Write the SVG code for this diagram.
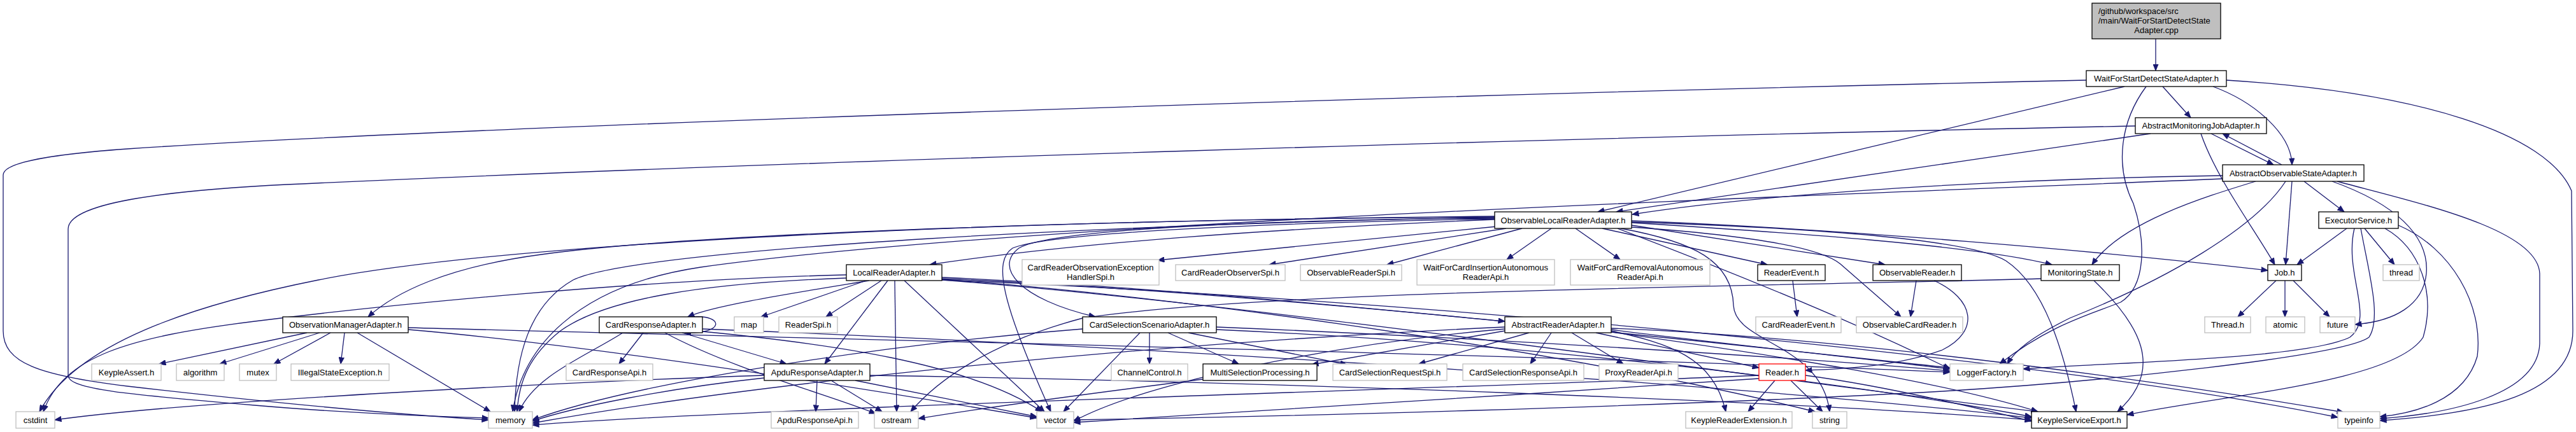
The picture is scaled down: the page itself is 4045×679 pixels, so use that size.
<svg xmlns="http://www.w3.org/2000/svg" width="4045" height="679" viewBox="0 0 4045 679">
<defs>
<marker id="arr" markerUnits="userSpaceOnUse" markerWidth="11" markerHeight="9" viewBox="0 0 11 9" refX="10.5" refY="4.5" orient="auto">
<path d="M0.5,0.5 L10.5,4.5 L0.5,8.5 z" fill="#191970" stroke="#191970" stroke-width="1"/>
</marker>
<style>
.e path{fill:none;stroke:#191970;stroke-width:1.3;marker-end:url(#arr)}
.n rect{fill:#fff;stroke:#000;stroke-width:1.3}
.g rect{fill:#fff;stroke:#bfbfbf;stroke-width:1.3}
.r rect{fill:#fff;stroke:#ff0000;stroke-width:1.3}
.top rect{fill:#bfbfbf;stroke:#000;stroke-width:1.3}
text{font-family:"Liberation Sans",Arial,Helvetica,sans-serif;font-size:13px;fill:#000;text-anchor:middle}
text.l{text-anchor:start}
</style>
</defs>
<rect width="4045" height="679" fill="#fff"/>
<g id="edges" class="e">
<path d="M3385,61 L3385,111"/>
<path d="M3396,136 L3440,185"/>
<path d="M3475,136 C3540,160 3598,210 3599,259"/>
<path d="M3336,136 L2509,333"/>
<path d="M3370,136 C3330,190 3320,260 3350,320 C3370,380 3370,450 3330,475 C3280,495 3220,510 3140,572"/>
<path d="M3276,126 C2200,150 700,200 200,234 C60,244 5,258 5,275 L5,520 C5,570 60,590 200,607 C400,630 600,650 767,660"/>
<path d="M3496,126 C3800,145 4000,210 4038,300 L4040,520 C4040,620 3900,650 3737,661"/>
<path d="M3472,210 L3570,259"/>
<path d="M3583,259 L3490,210"/>
<path d="M3377,210 L2538,333"/>
<path d="M3456,210 C3480,280 3540,360 3572,416"/>
<path d="M3353,198 C2500,215 1200,255 450,290 C250,300 107,320 107,360 L107,590 C107,612 200,620 400,637 C550,650 700,655 767,657"/>
<path d="M3490,276 C3200,280 2800,300 2563,337"/>
<path d="M3490,281 C2800,310 1600,350 1100,420 C900,450 820,550 805,647"/>
<path d="M3542,285 C3460,310 3330,350 3285,416"/>
<path d="M3589,285 C3540,360 3400,440 3250,500 C3190,530 3165,550 3152,572"/>
<path d="M3599,285 L3589,416"/>
<path d="M3618,285 L3681,333"/>
<path d="M3662,285 C3760,320 3815,370 3810,430 C3805,480 3760,505 3698,510"/>
<path d="M3670,285 C3800,320 3985,360 3988,430 L3988,540 C3985,620 3850,650 3737,658"/>
<path d="M3685,359 L3607,416"/>
<path d="M3713,359 L3760,416"/>
<path d="M3697,359 C3680,430 3730,500 3690,530 C3620,565 3300,570 3177,580"/>
<path d="M3707,359 C3720,430 3740,500 3720,530 C3680,560 3300,600 3050,615 C2600,640 2000,655 1686,660"/>
<path d="M3745,359 C3800,390 3825,460 3805,530 C3760,600 3500,620 3340,652"/>
<path d="M3766,354 C3850,390 3900,480 3890,560 C3870,630 3790,650 3737,655"/>
<path d="M3574,441 L3514,498"/>
<path d="M3588,441 L3588,498"/>
<path d="M3601,441 L3658,498"/>
<path d="M2347,345 C2000,360 1700,380 1460,416"/>
<path d="M2350,356 L1818,409"/>
<path d="M2365,359 L1993,416"/>
<path d="M2390,359 L2178,416"/>
<path d="M2436,359 L2366,408"/>
<path d="M2474,359 L2544,408"/>
<path d="M2516,359 L2775,416"/>
<path d="M2562,354 L2960,416"/>
<path d="M2562,357 C2750,370 2860,390 2890,415 L2985,498"/>
<path d="M2562,350 C2800,365 3100,385 3222,416"/>
<path d="M2562,347 C2900,360 3300,395 3561,425"/>
<path d="M2347,340 C1800,345 1100,365 850,400 C700,420 620,460 578,498"/>
<path d="M2347,343 C2000,345 1650,360 1600,390 C1560,420 1600,470 1720,498"/>
<path d="M2347,342 C1800,350 1000,390 900,440 C830,480 810,560 808,647"/>
<path d="M2347,341 C1600,345 800,380 500,440 C300,480 120,540 62,647"/>
<path d="M2347,344 C2000,350 1650,365 1590,390 C1560,410 1570,470 1650,647"/>
<path d="M2545,359 C2660,380 2720,410 2722,480 C2725,540 2860,540 2873,647"/>
<path d="M2540,359 C2700,420 2900,500 3062,580"/>
<path d="M2562,349 C2900,360 3100,380 3150,410 C3210,450 3240,550 3260,647"/>
<path d="M1365,441 C1250,460 1120,480 1080,498"/>
<path d="M1360,441 L1195,498"/>
<path d="M1384,441 L1297,498"/>
<path d="M1394,441 L1295,572"/>
<path d="M1405,441 L1408,647"/>
<path d="M1420,441 L1640,647"/>
<path d="M1329,432 C1000,440 600,480 400,505 C200,530 100,560 68,647"/>
<path d="M1329,437 C1100,445 950,470 880,520 C830,560 815,600 812,647"/>
<path d="M1479,436 C1800,450 2100,480 2363,505"/>
<path d="M1479,438 C2000,460 2700,540 3062,578"/>
<path d="M1479,440 C2000,480 2800,600 3200,647"/>
<path d="M1479,440 C2200,470 3200,560 3671,656"/>
<path d="M1479,439 C1900,470 2500,560 2850,647"/>
<path d="M482,523 L250,572"/>
<path d="M502,523 L345,572"/>
<path d="M519,523 L430,572"/>
<path d="M541,523 L535,572"/>
<path d="M561,523 L770,647"/>
<path d="M641,515 C1200,530 2500,560 3062,585"/>
<path d="M641,518 C900,540 1300,600 1628,657"/>
<path d="M1090,498 C1135,495 1140,525 1075,523"/>
<path d="M1010,523 L972,572"/>
<path d="M1071,523 L1235,572"/>
<path d="M978,523 C920,560 840,590 815,647"/>
<path d="M1044,523 C1150,580 1300,620 1375,650"/>
<path d="M1103,521 C1300,540 1520,570 1636,647"/>
<path d="M1103,517 C1700,540 2700,600 3190,657"/>
<path d="M1805,523 L1805,572"/>
<path d="M1834,523 L1945,572"/>
<path d="M1866,523 L2115,573"/>
<path d="M1790,523 L1670,647"/>
<path d="M1700,517 C1400,540 1000,600 836,660"/>
<path d="M1910,514 C2300,530 2800,560 3062,583"/>
<path d="M1910,518 C2400,540 2900,600 3190,655"/>
<path d="M2401,523 L2228,572"/>
<path d="M2436,523 L2403,572"/>
<path d="M2468,523 L2549,572"/>
<path d="M2506,523 L2762,578"/>
<path d="M2530,520 C2620,540 2690,560 2710,647"/>
<path d="M2363,520 L2060,573"/>
<path d="M2363,514 C1800,540 1200,600 836,665"/>
<path d="M2530,518 C2700,540 2900,560 3062,580"/>
<path d="M2530,522 C2800,560 3050,600 3200,647"/>
<path d="M2530,516 C2900,530 3400,600 3680,648"/>
<path d="M2363,517 C2100,540 1800,600 1686,662"/>
<path d="M2815,441 L2822,498"/>
<path d="M3009,441 L3000,498"/>
<path d="M3037,441 C3100,470 3110,520 3050,550 C2980,575 2900,580 2835,582"/>
<path d="M3205,438 C2800,450 2000,455 1700,500 C1550,540 1470,600 1430,647"/>
<path d="M3288,441 C3360,510 3400,580 3325,647"/>
<path d="M1283,598 L1281,647"/>
<path d="M1305,598 L1385,647"/>
<path d="M1343,598 L1628,655"/>
<path d="M1200,590 C900,600 300,630 86,660"/>
<path d="M1200,594 C1050,610 900,640 836,662"/>
<path d="M1366,590 C2000,600 2800,630 3190,660"/>
<path d="M1889,596 C1700,620 1550,640 1442,658"/>
<path d="M2787,598 L2745,647"/>
<path d="M2812,598 L2862,647"/>
<path d="M2762,590 C2300,610 1200,640 836,668"/>
<path d="M2762,595 C2400,620 1900,650 1686,664"/>
<path d="M2835,590 C2950,605 3100,640 3190,662"/>
</g>
<g id="node-top" class="top"><rect x="3285" y="5" width="202" height="56"/><text class="l" x="3295" y="22">/github/workspace/src</text><text class="l" x="3295" y="37">/main/WaitForStartDetectState</text><text x="3386" y="52">Adapter.cpp</text></g>
<g id="node-W" class="n"><rect x="3276" y="111" width="220" height="25"/><text x="3386" y="128">WaitForStartDetectStateAdapter.h</text></g>
<g id="node-AMJA" class="n"><rect x="3353" y="185" width="206" height="25"/><text x="3456" y="202">AbstractMonitoringJobAdapter.h</text></g>
<g id="node-AOSA" class="n"><rect x="3490" y="259" width="222" height="26"/><text x="3601" y="277">AbstractObservableStateAdapter.h</text></g>
<g id="node-OLRA" class="n"><rect x="2347" y="333" width="215" height="26"/><text x="2454.5" y="351">ObservableLocalReaderAdapter.h</text></g>
<g id="node-ES" class="n"><rect x="3641" y="333" width="125" height="26"/><text x="3703.5" y="351">ExecutorService.h</text></g>
<g id="node-LRA" class="n"><rect x="1329" y="416" width="150" height="25"/><text x="1404" y="433">LocalReaderAdapter.h</text></g>
<g id="node-CROEH" class="g"><rect x="1605" y="408" width="215" height="40"/><text x="1712.5" y="425">CardReaderObservationException</text><text x="1712.5" y="440">HandlerSpi.h</text></g>
<g id="node-CROS" class="g"><rect x="1846" y="416" width="172" height="25"/><text x="1932" y="433">CardReaderObserverSpi.h</text></g>
<g id="node-ORS" class="g"><rect x="2042" y="416" width="159" height="25"/><text x="2121.5" y="433">ObservableReaderSpi.h</text></g>
<g id="node-WFCI" class="g"><rect x="2225" y="408" width="216" height="40"/><text x="2333" y="425">WaitForCardInsertionAutonomous</text><text x="2333" y="440">ReaderApi.h</text></g>
<g id="node-WFCR" class="g"><rect x="2466" y="408" width="219" height="40"/><text x="2575.5" y="425">WaitForCardRemovalAutonomous</text><text x="2575.5" y="440">ReaderApi.h</text></g>
<g id="node-RE" class="n"><rect x="2760" y="416" width="106" height="25"/><text x="2813" y="433">ReaderEvent.h</text></g>
<g id="node-OR" class="n"><rect x="2941" y="416" width="139" height="25"/><text x="3010.5" y="433">ObservableReader.h</text></g>
<g id="node-MS" class="n"><rect x="3205" y="416" width="123" height="25"/><text x="3266.5" y="433">MonitoringState.h</text></g>
<g id="node-JOB" class="n"><rect x="3561" y="416" width="53" height="25"/><text x="3587.5" y="433">Job.h</text></g>
<g id="node-THREAD" class="g"><rect x="3742" y="416" width="57" height="25"/><text x="3770.5" y="433">thread</text></g>
<g id="node-OMA" class="n"><rect x="444" y="498" width="197" height="25"/><text x="542.5" y="515">ObservationManagerAdapter.h</text></g>
<g id="node-CRA" class="n"><rect x="941" y="498" width="162" height="25"/><text x="1022" y="515">CardResponseAdapter.h</text></g>
<g id="node-MAP" class="g"><rect x="1153" y="498" width="46" height="25"/><text x="1176" y="515">map</text></g>
<g id="node-RSPI" class="g"><rect x="1223" y="498" width="92" height="25"/><text x="1269" y="515">ReaderSpi.h</text></g>
<g id="node-CSSA" class="n"><rect x="1700" y="498" width="210" height="25"/><text x="1805" y="515">CardSelectionScenarioAdapter.h</text></g>
<g id="node-ARA" class="n"><rect x="2363" y="498" width="167" height="25"/><text x="2446.5" y="515">AbstractReaderAdapter.h</text></g>
<g id="node-CRE" class="g"><rect x="2757" y="498" width="134" height="25"/><text x="2824" y="515">CardReaderEvent.h</text></g>
<g id="node-OCR" class="g"><rect x="2915" y="498" width="167" height="25"/><text x="2998.5" y="515">ObservableCardReader.h</text></g>
<g id="node-ThreadH" class="g"><rect x="3462" y="498" width="72" height="25"/><text x="3498" y="515">Thread.h</text></g>
<g id="node-ATOMIC" class="g"><rect x="3558" y="498" width="61" height="25"/><text x="3588.5" y="515">atomic</text></g>
<g id="node-FUTURE" class="g"><rect x="3643" y="498" width="55" height="25"/><text x="3670.5" y="515">future</text></g>
<g id="node-KA" class="g"><rect x="144" y="572" width="109" height="26"/><text x="198.5" y="590">KeypleAssert.h</text></g>
<g id="node-ALG" class="g"><rect x="277" y="572" width="75" height="26"/><text x="314.5" y="590">algorithm</text></g>
<g id="node-MUTEX" class="g"><rect x="376" y="572" width="58" height="26"/><text x="405" y="590">mutex</text></g>
<g id="node-ISE" class="g"><rect x="457" y="572" width="154" height="26"/><text x="534" y="590">IllegalStateException.h</text></g>
<g id="node-CRAPI" class="g"><rect x="889" y="572" width="136" height="26"/><text x="957" y="590">CardResponseApi.h</text></g>
<g id="node-ARAD" class="n"><rect x="1200" y="572" width="166" height="26"/><text x="1283" y="590">ApduResponseAdapter.h</text></g>
<g id="node-CC" class="g"><rect x="1745" y="572" width="120" height="26"/><text x="1805" y="590">ChannelControl.h</text></g>
<g id="node-MSP" class="n"><rect x="1889" y="572" width="179" height="26"/><text x="1978.5" y="590">MultiSelectionProcessing.h</text></g>
<g id="node-CSRS" class="g"><rect x="2093" y="572" width="179" height="26"/><text x="2182.5" y="590">CardSelectionRequestSpi.h</text></g>
<g id="node-CSRA" class="g"><rect x="2297" y="572" width="190" height="26"/><text x="2392" y="590">CardSelectionResponseApi.h</text></g>
<g id="node-PRA" class="g"><rect x="2511" y="572" width="124" height="26"/><text x="2573" y="590">ProxyReaderApi.h</text></g>
<g id="node-READER" class="r"><rect x="2762" y="572" width="73" height="26"/><text x="2798.5" y="590">Reader.h</text></g>
<g id="node-LF" class="g"><rect x="3062" y="572" width="115" height="26"/><text x="3119.5" y="590">LoggerFactory.h</text></g>
<g id="node-CSTDINT" class="g"><rect x="25" y="647" width="61" height="26"/><text x="55.5" y="665">cstdint</text></g>
<g id="node-MEMORY" class="g"><rect x="767" y="647" width="69" height="26"/><text x="801.5" y="665">memory</text></g>
<g id="node-ARAPI" class="g"><rect x="1211" y="647" width="137" height="26"/><text x="1279.5" y="665">ApduResponseApi.h</text></g>
<g id="node-OSTREAM" class="g"><rect x="1373" y="647" width="69" height="26"/><text x="1407.5" y="665">ostream</text></g>
<g id="node-VECTOR" class="g"><rect x="1628" y="647" width="58" height="26"/><text x="1657" y="665">vector</text></g>
<g id="node-KRE" class="g"><rect x="2647" y="647" width="167" height="26"/><text x="2730.5" y="665">KeypleReaderExtension.h</text></g>
<g id="node-STRING" class="g"><rect x="2846" y="647" width="54" height="26"/><text x="2873" y="665">string</text></g>
<g id="node-KSE" class="n"><rect x="3190" y="647" width="150" height="26"/><text x="3265" y="665">KeypleServiceExport.h</text></g>
<g id="node-TYPEINFO" class="g"><rect x="3671" y="647" width="66" height="26"/><text x="3704" y="665">typeinfo</text></g>
</svg>
